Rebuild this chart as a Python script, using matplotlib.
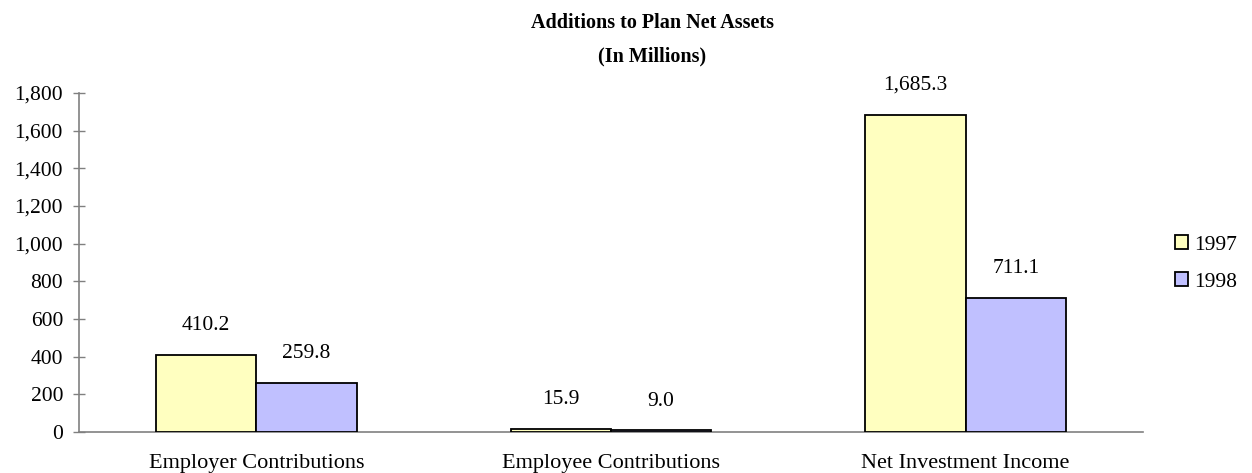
import matplotlib
matplotlib.use("Agg")
import matplotlib.pyplot as plt
import numpy as np

categories = ["Employer Contributions", "Employee Contributions", "Net Investment Income"]
series_names = ["1997", "1998"]
values_1997 = [410.2, 15.9, 1685.3]
values_1998 = [259.8, 9.0, 711.1]
yticks = [0, 200, 400, 600, 800, 1000, 1200, 1400, 1600, 1800]

plt.rcParams['font.family'] = ['Liberation Serif', 'DejaVu Serif']

fig = plt.figure(figsize=(12.52, 4.73), dpi=100)
ax = fig.add_axes([0.0631, 0.0867, 0.8498, 0.7167])

x = np.arange(len(categories))
w = 0.283
colors = ["#FFFFC0", "#C0C0FF"]
b1 = ax.bar(x - w/2, values_1997, w, color=colors[0], edgecolor="black", linewidth=1.3, label=series_names[0], zorder=3)
b2 = ax.bar(x + w/2, values_1998, w, color=colors[1], edgecolor="black", linewidth=1.3, label=series_names[1], zorder=3)

for bars, vals in ((b1, values_1997), (b2, values_1998)):
    for r, v in zip(bars, vals):
        ax.annotate(f"{v:,.1f}", (r.get_x() + r.get_width()/2, v), xytext=(0, 21),
                    textcoords="offset points", ha="center", va="center", fontsize=15.5)

ax.set_xlim(-0.5, 2.5)
ax.set_ylim(0, 1800)
ax.set_yticks(yticks)
ax.set_yticklabels([f"{t:,}" for t in yticks], fontsize=15.5)
ax.set_xticks(x)
ax.set_xticklabels(categories, fontsize=16)
ax.tick_params(axis='x', length=0, pad=16)
ax.tick_params(axis='y', direction='inout', length=9, width=1, color="#808080", pad=7)
for s in ("top", "right"):
    ax.spines[s].set_visible(False)
for s in ("left", "bottom"):
    ax.spines[s].set_color("#808080")
    ax.spines[s].set_linewidth(1.2)

fig.text(0.521, 0.952, "Additions to Plan Net Assets", ha="center", va="center", fontsize=14.5, fontweight="bold")
fig.text(0.521, 0.880, "(In Millions)", ha="center", va="center", fontsize=14.5, fontweight="bold")

leg = ax.legend(loc="center left", bbox_to_anchor=(1.030, 0.497), frameon=False, fontsize=15.5,
                handlelength=0.6, handleheight=0.6, handletextpad=0.3, labelspacing=0.8,
                borderpad=0, borderaxespad=0)

fig.savefig("out.png", dpi=100)
